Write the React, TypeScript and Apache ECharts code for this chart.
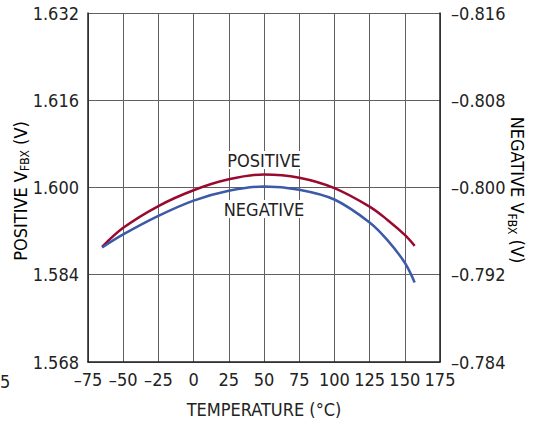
import React, { useEffect, useRef } from "react";
import * as echarts from "echarts";

const temperatures = [-65, -50, -25, 0, 25, 50, 75, 100, 125, 137.5, 150, 157];
const positiveV = [1.5891, 1.5926, 1.5966, 1.5995, 1.6015, 1.6024, 1.6018, 1.5999, 1.5965, 1.5941, 1.5913, 1.5893];
const negativeV = [-0.7945, -0.7957, -0.7974, -0.7988, -0.7997, -0.8001, -0.7998, -0.7989, -0.7968, -0.7952, -0.7931, -0.7913];

const xTicks = { min: -75, max: 175, interval: 25 };
const leftTicks = { min: 1.568, max: 1.632, interval: 0.016 };
const rightTicks = { min: -0.816, max: -0.784, interval: 0.008 };

const FONT = "'Liberation Sans Narrow', 'Arial Narrow', 'DejaVu Sans Condensed', sans-serif";
const TXT = "#222";

const dash = (s: string) => s.replace(/-/g, "\u2013");

export default function App() {
  const ref = useRef<HTMLDivElement>(null);
  useEffect(() => {
    document.body.style.margin = "0";
    const chart = echarts.init(ref.current!, null, { renderer: "svg" });
    const richMain = { fontSize: 18, lineHeight: 22, fontFamily: FONT, color: TXT, verticalAlign: "middle" };
    const richSub = { fontSize: 12, lineHeight: 12, fontFamily: FONT, color: TXT, verticalAlign: "bottom" };
    chart.setOption({
      animation: false,
      grid: { left: 88, right: 98, top: 13, bottom: 58, containLabel: false },
      xAxis: {
        type: "value",
        min: xTicks.min,
        max: xTicks.max,
        interval: xTicks.interval,
        name: "TEMPERATURE (°C)",
        nameLocation: "middle",
        nameGap: 38,
        nameTextStyle: { fontSize: 18, fontFamily: FONT, color: TXT },
        axisLine: { show: true, onZero: false, lineStyle: { color: "#222", width: 1.5 } },
        axisTick: { show: false },
        axisLabel: { fontSize: 18, fontFamily: FONT, color: TXT, margin: 8, formatter: (v: number) => dash(String(v)) },
        splitLine: { show: true, lineStyle: { color: "#606060", width: 1 } },
      },
      yAxis: [
        {
          type: "value",
          position: "left",
          min: leftTicks.min,
          max: leftTicks.max,
          interval: leftTicks.interval,
          axisLine: { show: true, onZero: false, lineStyle: { color: "#222", width: 1.5 } },
          axisTick: { show: false },
          axisLabel: { fontSize: 18, fontFamily: FONT, color: TXT, margin: 9, formatter: (v: number) => v.toFixed(3) },
          splitLine: { show: true, lineStyle: { color: "#606060", width: 1 } },
        },
        {
          type: "value",
          position: "right",
          inverse: true,
          min: rightTicks.min,
          max: rightTicks.max,
          interval: rightTicks.interval,
          axisLine: { show: true, onZero: false, lineStyle: { color: "#222", width: 1.5 } },
          axisTick: { show: false },
          axisLabel: { fontSize: 18, fontFamily: FONT, color: TXT, margin: 11, formatter: (v: number) => dash(v.toFixed(3)) },
          splitLine: { show: false },
        },
      ],
      series: [
        {
          name: "POSITIVE",
          type: "line",
          yAxisIndex: 0,
          smooth: 0.35,
          symbol: "none",
          data: temperatures.map((t, i) => [t, positiveV[i]]),
          lineStyle: { color: "#990a30", width: 2.5 },
          z: 3,
        },
        {
          name: "NEGATIVE",
          type: "line",
          yAxisIndex: 1,
          smooth: 0.35,
          symbol: "none",
          data: temperatures.map((t, i) => [t, negativeV[i]]),
          lineStyle: { color: "#3d5aa8", width: 2.5 },
          z: 3,
        },
      ],
      graphic: [
        {
          type: "text",
          x: 264,
          y: 160,
          z: 10,
          style: {
            text: "POSITIVE",
            fontSize: 18,
            fontFamily: FONT,
            fill: TXT,
            align: "center",
            verticalAlign: "middle",
            backgroundColor: "#fff",
            padding: [0, 1],
          },
        },
        {
          type: "text",
          x: 264,
          y: 209,
          z: 10,
          style: {
            text: "NEGATIVE",
            fontSize: 18,
            fontFamily: FONT,
            fill: TXT,
            align: "center",
            verticalAlign: "middle",
            backgroundColor: "#fff",
            padding: [0, 1],
          },
        },
        {
          type: "text",
          x: 20,
          y: 191,
          rotation: Math.PI / 2,
          style: {
            text: "{a|POSITIVE V}{s|FBX}{a| (V)}",
            align: "center",
            verticalAlign: "middle",
            rich: { a: richMain, s: richSub },
          },
        },
        {
          type: "text",
          x: 517,
          y: 190,
          rotation: -Math.PI / 2,
          style: {
            text: "{a|NEGATIVE V}{s|FBX}{a| (V)}",
            align: "center",
            verticalAlign: "middle",
            rich: { a: richMain, s: richSub },
          },
        },
        {
          type: "text",
          x: 0,
          y: 381,
          style: {
            text: "5",
            fontSize: 18,
            fontFamily: FONT,
            fill: TXT,
            align: "left",
            verticalAlign: "middle",
          },
        },
      ],
    });
    return () => chart.dispose();
  }, []);
  return <div ref={ref} style={{ position: "absolute", left: 0, top: 0, width: 538, height: 423 }} />;
}
